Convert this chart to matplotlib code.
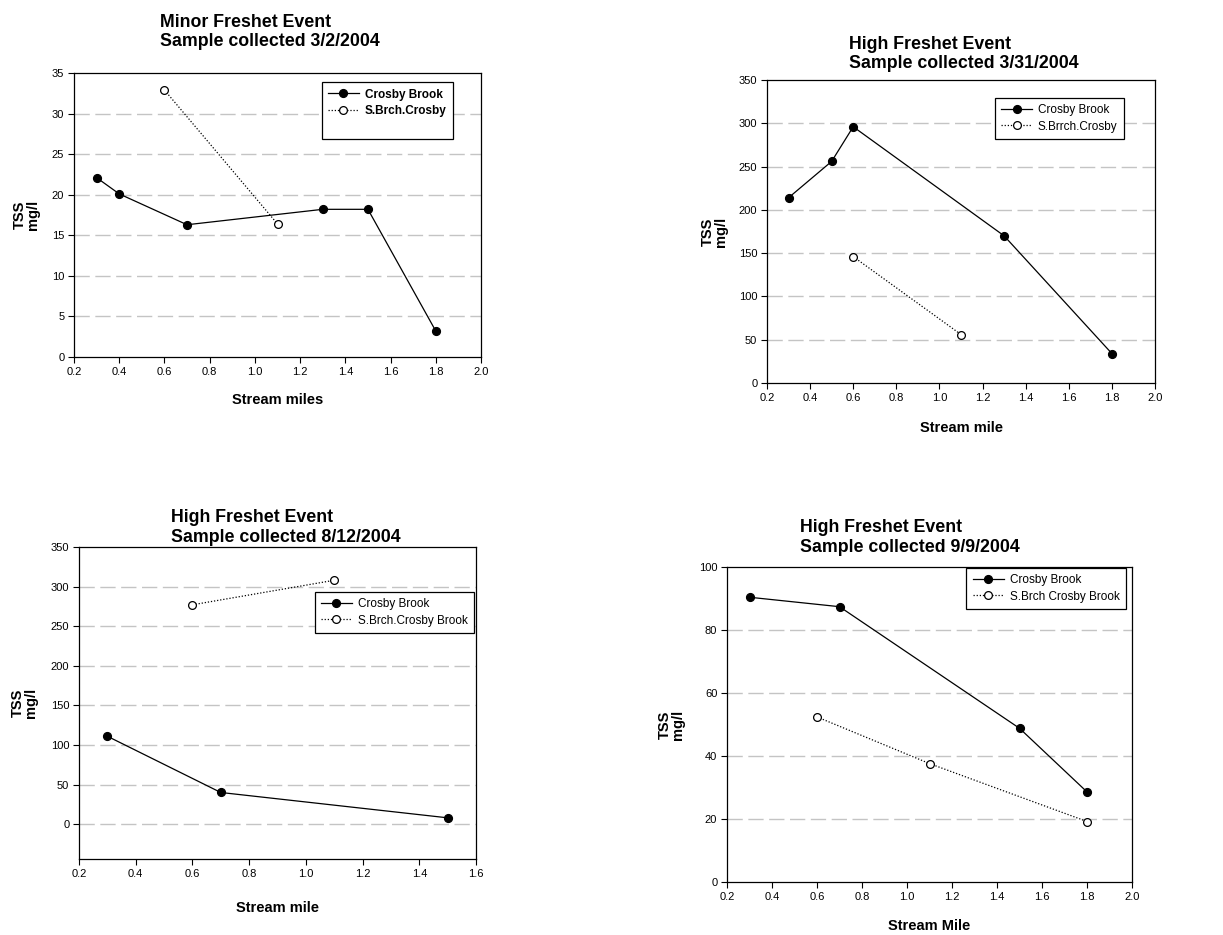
import matplotlib.pyplot as plt
import numpy as np

plt.rcParams['font.family'] = ['Liberation Sans', 'DejaVu Sans']

# panel 1: minor freshet 3/2/2004
p1_cb_x = [0.3, 0.4, 0.7, 1.3, 1.5, 1.8]
p1_cb_y = [22.1, 20.1, 16.3, 18.2, 18.2, 3.2]
p1_sb_x = [0.6, 1.1]
p1_sb_y = [32.9, 16.4]

# panel 2: high freshet 3/31/2004
p2_cb_x = [0.3, 0.5, 0.6, 1.3, 1.8]
p2_cb_y = [214, 256, 296, 170, 34]
p2_sb_x = [0.6, 1.1]
p2_sb_y = [146, 56]

# panel 3: high freshet 8/12/2004
p3_cb_x = [0.3, 0.7, 1.5]
p3_cb_y = [111, 40, 8]
p3_sb_x = [0.6, 1.1]
p3_sb_y = [277, 308]

# panel 4: high freshet 9/9/2004
p4_cb_x = [0.3, 0.7, 1.5, 1.8]
p4_cb_y = [90.4, 87.4, 48.8, 28.6]
p4_sb_x = [0.6, 1.1, 1.8]
p4_sb_y = [52.4, 37.6, 19.2]

W, H = 1223, 935
fig = plt.figure(figsize=(W / 100, H / 100), dpi=100)


def make_ax(l, t, r, b):
    # pixel box -> figure fraction
    return fig.add_axes([l / W, 1 - b / H, (r - l) / W, (b - t) / H])


def panel(ax, cbx, cby, sbx, sby, names, title, tpos, xlab, xlab_y, ylab_x,
          xlim, xticks, ylim, yticks, grid_vals, leg_anchor, bold_leg=False, pad_leg=False):
    for v in grid_vals:
        ax.axhline(v, color='#c4c4c4', lw=1.0, linestyle=(0, (11, 4)), zorder=1)
    ax.plot(cbx, cby, '-', color='black', lw=0.9, marker='o', ms=5.6,
            mfc='black', mec='black', label=names[0], zorder=3)
    ax.plot(sbx, sby, color='black', lw=0.9, linestyle=(0, (1, 1.5)), marker='o', ms=5.6,
            mfc='white', mec='black', mew=0.9, label=names[1], zorder=4)
    if pad_leg:
        ax.plot([], [], ' ', label=' ')
    ax.set_xlim(*xlim)
    ax.set_ylim(*ylim)
    ax.set_xticks(xticks)
    ax.set_xticklabels(['%.1f' % v for v in xticks])
    ax.set_yticks(yticks)
    ax.tick_params(direction='out', length=4, width=0.8, labelsize=8, pad=3,
                   top=False, right=False, colors='black')
    for s in ax.spines.values():
        s.set_linewidth(0.9)
    # label coords: x label top edge, y label right edge (axes fraction)
    ax.set_xlabel(xlab, fontsize=10.5, fontweight='bold')
    ax.xaxis.set_label_coords(0.5, xlab_y)
    ax.set_ylabel('TSS\nmg/l', fontsize=10.5, fontweight='bold', linespacing=0.9)
    ax.yaxis.set_label_coords(ylab_x, 0.5)
    ax.text(tpos[0], 1 + tpos[1], title, transform=ax.transAxes, ha='left', va='bottom',
            fontsize=12.8, fontweight='bold', linespacing=1.2)
    leg = ax.legend(loc='upper right', bbox_to_anchor=leg_anchor, borderaxespad=0,
                    fancybox=False, edgecolor='black', framealpha=1, handlelength=2.6,
                    handletextpad=0.5, borderpad=0.55, labelspacing=0.35,
                    prop={'size': 8.5, 'weight': 'bold' if bold_leg else 'normal'})
    leg.get_frame().set_linewidth(0.9)


ax1 = make_ax(74, 73, 481, 357)
panel(ax1, p1_cb_x, p1_cb_y, p1_sb_x, p1_sb_y, ['Crosby Brook', 'S.Brch.Crosby'],
      'Minor Freshet Event\nSample collected 3/2/2004', (0.211, 0.08),
      'Stream miles', -0.127, -0.084, (0.2, 2.0), np.arange(0.2, 2.01, 0.2),
      (0, 35), np.arange(0, 36, 5), [5, 10, 15, 20, 25, 30],
      (0.931, 0.968), bold_leg=True, pad_leg=True)

ax2 = make_ax(767, 80, 1155, 383)
panel(ax2, p2_cb_x, p2_cb_y, p2_sb_x, p2_sb_y, ['Crosby Brook', 'S.Brrch.Crosby'],
      'High Freshet Event\nSample collected 3/31/2004', (0.211, 0.025),
      'Stream mile', -0.125, -0.10, (0.2, 2.0), np.arange(0.2, 2.01, 0.2),
      (0, 350), np.arange(0, 351, 50), [50, 100, 150, 200, 250, 300],
      (0.92, 0.941))

ax3 = make_ax(79, 547, 476, 859)
panel(ax3, p3_cb_x, p3_cb_y, p3_sb_x, p3_sb_y, ['Crosby Brook', 'S.Brch.Crosby Brook'],
      'High Freshet Event\nSample collected 8/12/2004', (0.232, 0.004),
      'Stream mile', -0.135, -0.103, (0.2, 1.6), np.arange(0.2, 1.61, 0.2),
      (-44, 350), np.arange(0, 351, 50), [0, 50, 100, 150, 200, 250, 300],
      (0.995, 0.856))

ax4 = make_ax(727, 567, 1132, 882)
panel(ax4, p4_cb_x, p4_cb_y, p4_sb_x, p4_sb_y, ['Crosby Brook', 'S.Brch Crosby Brook'],
      'High Freshet Event\nSample collected 9/9/2004', (0.18, 0.035),
      'Stream Mile', -0.117, -0.104, (0.2, 2.0), np.arange(0.2, 2.01, 0.2),
      (0, 100), np.arange(0, 101, 20), [20, 40, 60, 80],
      (0.985, 0.997))

fig.savefig('out.png', dpi=100)
